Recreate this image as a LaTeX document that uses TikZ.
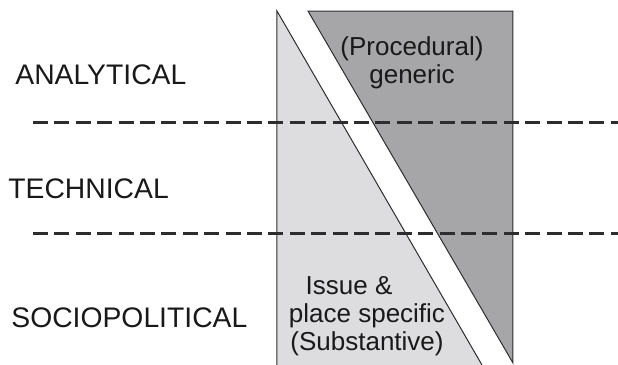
\documentclass[tikz,border=0pt]{standalone}
\usepackage{fontspec}
\setmainfont{Liberation Sans}
\usetikzlibrary{positioning}

\definecolor{lightfill}{RGB}{221,221,223}
\definecolor{darkfill}{RGB}{166,166,168}
\definecolor{edge}{RGB}{45,45,45}

\begin{document}
\begin{tikzpicture}[x=0.5pt,y=-0.5pt,
    level/.style={anchor=base west,inner sep=0pt,text=black!90,font=\fontsize{14.15}{17}\selectfont},
    inside/.style={anchor=north,inner sep=0pt,align=center,text=black!90,font=\fontsize{13}{14}\selectfont},
    divider/.style={edge,line width=1.25pt,dash pattern=on 7.5pt off 3.2pt},
    wedge/.style={edge,line width=0.5pt,line join=miter}]
\useasboundingbox (0,0) rectangle (618,365);
% the two wedges
\fill[lightfill] (277,11) -- (482,365) -- (277,365) -- cycle;
\draw[wedge] (277,365) -- (277,11) -- (482,365);
\filldraw[wedge,fill=darkfill] (308,11) -- (513,11) -- (513,363) -- cycle;
% levels
\node[level] (analytical) at (15,84) {ANALYTICAL};
\node[level] (technical) at (8,198) {TECHNICAL};
\node[level] (sociopolitical) at (11,327) {SOCIOPOLITICAL};
\node[inside] (procedural) at (412,36) {(Procedural)\\generic};
\node[inside] (substantive) at (367,276) {Issue \&\hspace*{1.38em}\\place specific\\(Substantive)};
% dividers
\coordinate (upperw) at (33,122.3);
\coordinate (uppere) at (618,122.3);
\coordinate (lowerw) at (33,233.3);
\coordinate (lowere) at (618,233.3);
\draw[divider] (upperw) -- (uppere);
\draw[divider] (lowerw) -- (lowere);
\end{tikzpicture}
\end{document}
